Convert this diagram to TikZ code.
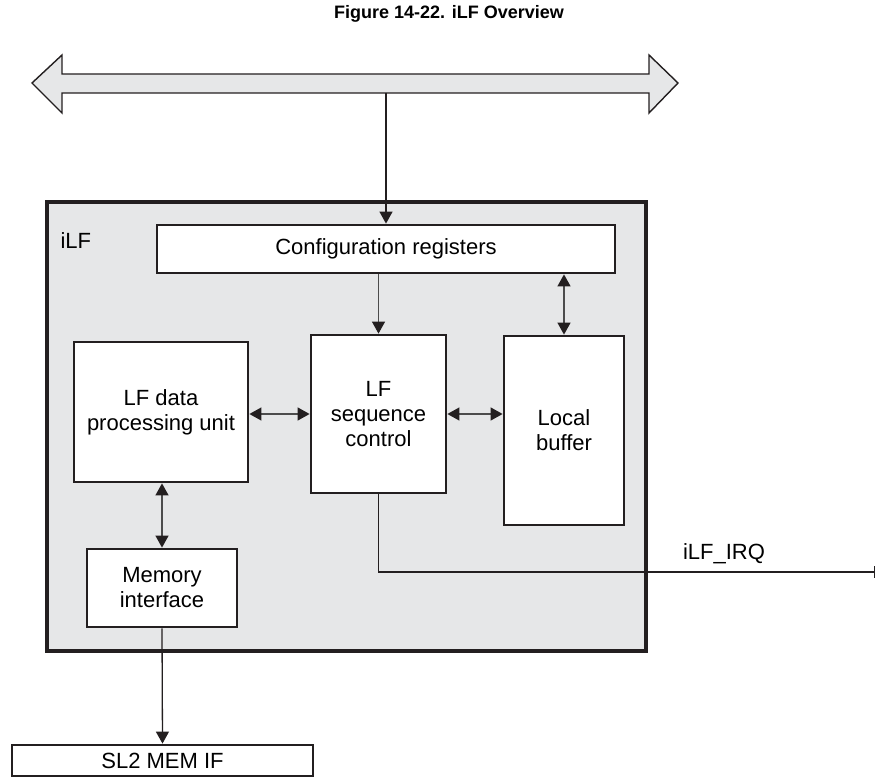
\documentclass[tikz,border=0pt]{standalone}
\usepackage{fontspec}
\setmainfont{Liberation Sans}
\usepackage{tikz}
\usetikzlibrary{positioning,arrows.meta,calc}
\definecolor{ilfgray}{HTML}{E6E7E8}
\definecolor{ink}{HTML}{231F20}

\begin{document}
\begin{tikzpicture}[
  x=1pt, y=-1pt,
  font=\fontsize{22}{25}\selectfont,
  blk/.style={draw=ink, line width=2.8pt, fill=white, align=center, inner sep=0pt},
  outer/.style={draw=ink, line width=4pt, fill=ilfgray, inner sep=0pt},
  conn/.style={draw=black!70, line width=1.3pt},
  arr/.style={conn, -{Triangle[length=12pt,width=13pt,color=ink]}},
  darr/.style={conn, {Triangle[length=12pt,width=13pt,color=ink]}-{Triangle[length=12pt,width=13pt,color=ink]}},
  sig/.style={draw=ink, line width=1.2pt, -{Bar[width=12pt,line width=1.5pt]}},
]
\useasboundingbox (0,0) rectangle (876,778);
% ---------- title ----------
\node[font=\fontsize{18}{20}\selectfont\bfseries] (title) at (449,14) {Figure 14-22. iLF Overview};
% ---------- bus ----------
\draw[ink, line width=1.4pt, fill=ilfgray]
  (32,83) -- (62,55) -- (62,74) -- (649,74) -- (649,55) -- (678,83)
  -- (649,113) -- (649,93) -- (62,93) -- (62,113) -- cycle;
\coordinate (bus) at (386,93);
% ---------- iLF block ----------
\node[outer, minimum width=599pt, minimum height=449pt] (ilf) at (346.5,426.5) {};
\node[anchor=west] (ilflbl) at (57,241) {iLF};
\node[blk, minimum width=458pt, minimum height=48pt] (cfg) at (386,249) {Configuration registers};
\node[blk, minimum width=174pt, minimum height=140pt] (lfdpu) at (161,412) {LF data\\processing unit};
\node[blk, minimum width=135pt, minimum height=158pt] (seq) at (378.5,414) {LF\\sequence\\control};
\node[blk, minimum width=120pt, minimum height=189pt] (buf) at (564,430.5) {Local\\buffer};
\node[blk, minimum width=150pt, minimum height=78pt] (mem) at (162,588) {Memory\\interface};
\node[blk, minimum width=301pt, minimum height=31pt] (sl2) at (162.5,760.5) {SL2 MEM IF};
% ---------- connectors ----------
\draw[arr, draw=ink] (bus) -- (bus |- cfg.north);
\draw[arr] (cfg.south -| seq) -- (seq.north);
\draw[darr] (cfg.south -| buf) -- (buf.north);
\draw[darr] (seq.west) -- (seq.west -| lfdpu.east);
\draw[darr] (seq.east) -- (seq.east -| buf.west);
\draw[darr] (lfdpu.south -| mem) -- (mem.north);
\draw[arr, draw=ink] (mem.south) -- (sl2.north);
\coordinate (irq) at (875,572);
\draw[sig] (seq.south) |- (irq);
\node (irqlbl) at (724,554) {iLF\_IRQ};
\end{tikzpicture}
\end{document}
